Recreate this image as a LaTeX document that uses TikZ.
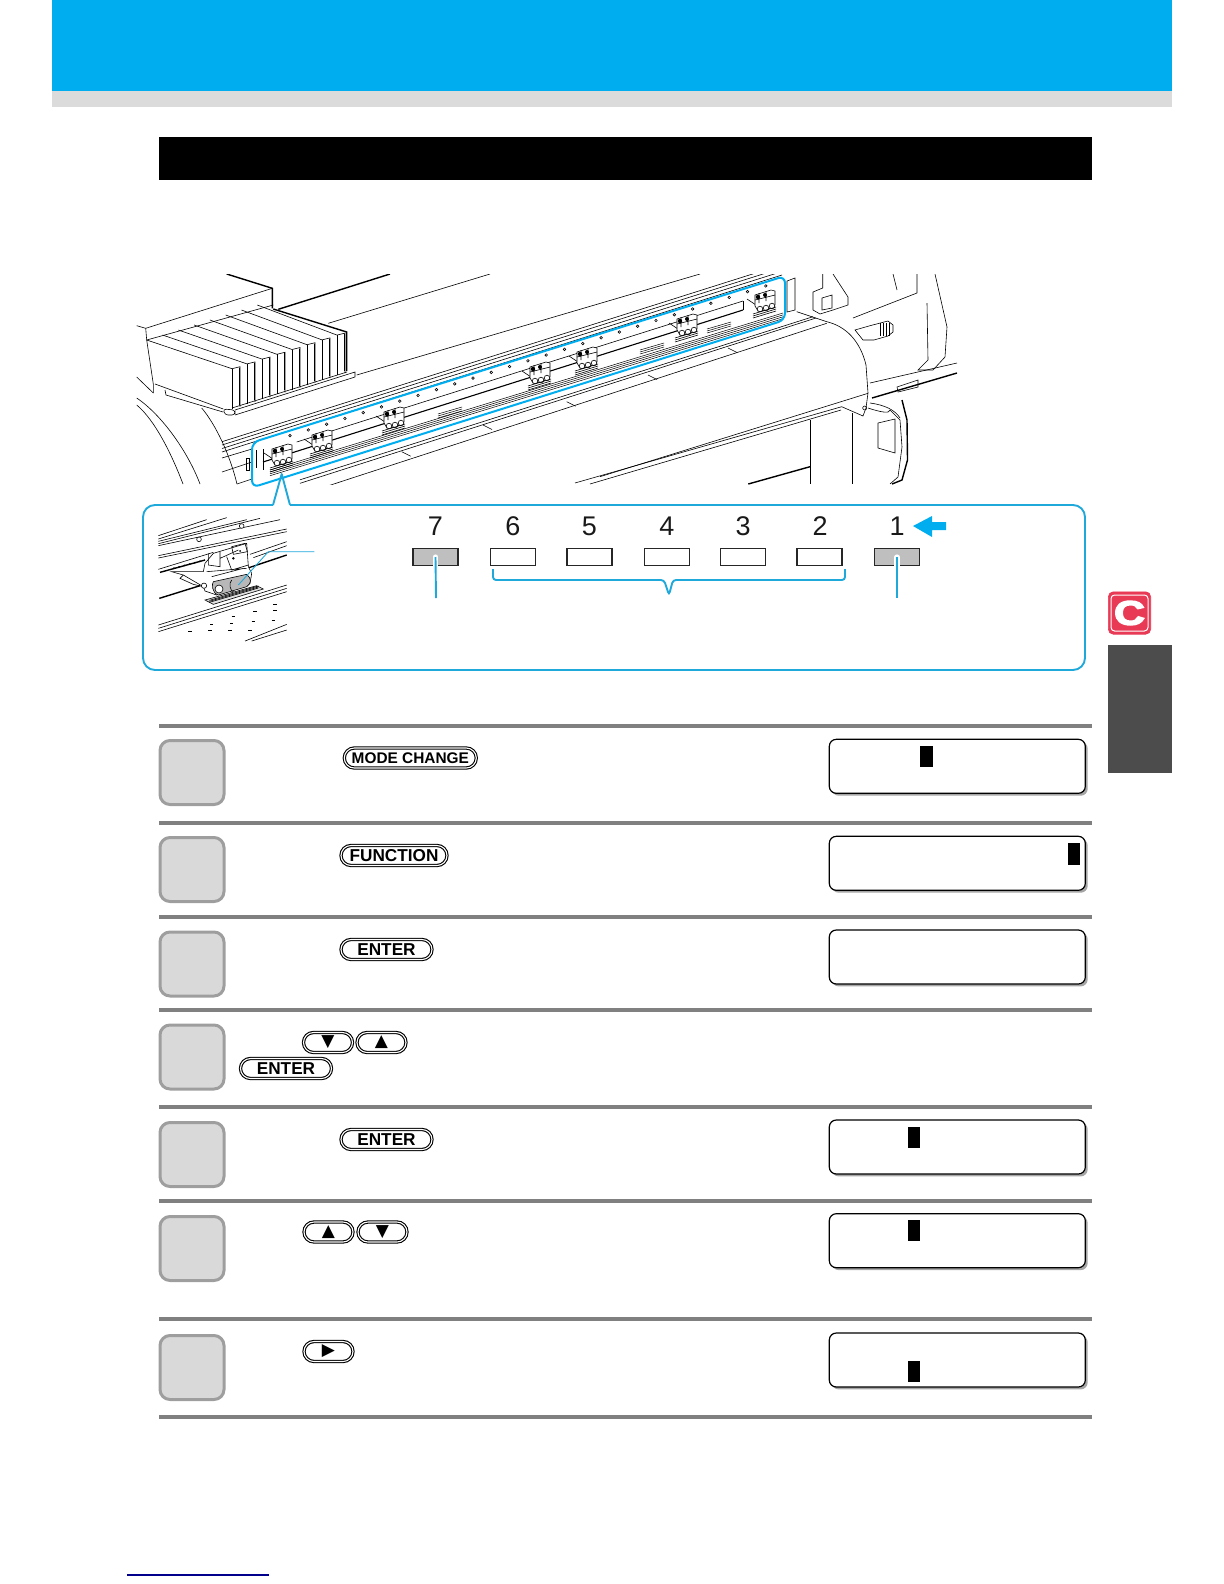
\documentclass[tikz,border=0pt]{standalone}
\usepackage{fontspec}
\setmainfont{Liberation Sans}
\newfontfamily\symfont{DejaVu Sans}
\newfontfamily\tabfont[FakeBold=4]{Liberation Sans Bold}
\usetikzlibrary{%
  arrows,%
  shapes.misc,% rounded rectangle
  shadows,%
  calc
}
\definecolor{bandblue}{HTML}{00AEEF}
\definecolor{linkblue}{HTML}{1FA8DA}
\definecolor{tabred}{HTML}{E83A55}
\tikzset{
  pinch/.pic={
    \draw[fine] (-16,-4) -- (-7,2);
    \draw[fine,fill=white] (-8,-8) -- (8,-13) -- (12,-12) -- (12,2) -- (4,7) -- (-5,8) -- (-8,3) -- cycle;
    \draw[fine] (-4,-10) -- (-4,0) (3,-12) -- (3,-2) (-8,-3) -- (12,-8);
    \fill (-5,-6) circle (2.2) (2,-8) circle (2);
    \foreach \rx/\ry in {-3/6,3/5,9/3} \draw[fine,fill=white] (\rx,\ry) circle (2.8);
    \foreach \hy in {0,2,4} \draw[fine] (-10,11+\hy) -- (13,4+\hy);
  }
}
\begin{document}
\begin{tikzpicture}[
  x=0.5bp, y=-0.5bp,
  fine/.style={line width=0.3bp, black},
  heavy/.style={line width=0.7bp, black},
  steprule/.style={line width=2bp, draw=black!50},
  band/.style={line width=1bp, draw=bandblue, rounded corners=3.5bp},
  link/.style={line width=0.95bp, draw=linkblue},
  stepbox/.style={rectangle, minimum width=32bp, minimum height=32bp, line width=1.5bp, draw=black!38, fill=black!15, rounded corners=5bp},
  display/.style={rectangle, minimum width=128bp, minimum height=27bp, line width=0.6bp, draw=black, fill=white, rounded corners=3.5bp, drop shadow={shadow xshift=1.2bp, shadow yshift=-1.2bp, fill=black!50, opacity=0.7}},
  cursorblock/.style={rectangle, minimum width=6.3bp, minimum height=10.8bp, inner sep=0pt, fill=black},
  lamp/.style={rectangle, minimum width=22.5bp, minimum height=8.4bp, line width=0.75bp, draw=black!85, fill=white},
  lampon/.style={lamp, fill=black!25},
  numlabel/.style={font=\fontsize{13.5bp}{15bp}\selectfont, text=black!90, inner sep=0pt},
  key/.style={rounded rectangle, draw=black, fill=white, line width=0.55bp, double=white, double distance=0.55bp, minimum height=10bp, inner sep=0pt, font=\fontsize{8.6bp}{9bp}\selectfont\bfseries}
]
\useasboundingbox (0,0) rectangle (1224,1584);

% page header and tab
\fill[bandblue] (52,0) rectangle (1172,91);
\fill[black!14] (52,91) rectangle (1172,107);
\fill[black] (159,137) rectangle (1092,180);
\node[rectangle, minimum width=21.2bp, minimum height=21.2bp, inner sep=0pt, fill=tabred, draw=tabred, line width=0.3bp, rounded corners=2.5bp] (tabc) at (1129.5,613) {};
\draw[white, line width=0.5bp, rounded corners=1.8bp] (1111,595) rectangle (1148,631);
\node[font=\fontsize{17bp}{17bp}\selectfont\tabfont, text=white, inner sep=0pt, xscale=1.25] (tabletter) at (1129.5,613) {C};
\fill[black!70] (1108,645) rectangle (1172,773);
\draw[line width=0.75bp, draw=blue!55!black] (127,1575) -- (269,1575);

% machine
\begin{scope}
\clip (133,274) rectangle (960,484);
% ink unit top
\draw[heavy] (226.7,274) -- (272.3,288.3) -- (272.3,308.3);
\draw[heavy] (278.3,309.3) -- (390,274);
\draw[fine] (136.7,325.7) -- (145.7,328.3) -- (272.3,288.3);
\draw[fine] (145.7,328.3) -- (146.7,340) -- (153.3,384) -- (153.3,393);
\draw[fine] (136.7,377) -- (153.3,393);
\draw[fine] (328.3,323.3) -- (490,274);
\draw[fine] (356.7,375) -- (700,274);
% ink cartridges
\draw[heavy] (273.3,309) -- (346.7,332) -- (346.7,371);
\foreach \i [evaluate=\i as \bx using 146.7+\i*15.8,
             evaluate=\i as \by using 340-\i*5,
             evaluate=\i as \fx using 240+\i*15,
             evaluate=\i as \fy using 366.7-\i*4.8] in {0,...,7} {
  \draw[fine] (\bx,\by) -- (\fx-8,\fy+2) -- (\fx,\fy) -- (\fx,\fy+40);
  \draw[fine] (\fx-8,\fy+2) -- (\fx-8,\fy+42);
  \draw[line width=0.35bp] (\fx-1,\fy+1) -- (\fx-1,\fy+38);
}
\draw[fine] (146.7,340) -- (273.3,305);
\draw[fine] (232,408) -- (347,372);
% tray
\draw[fine] (155,384) -- (223.3,409);
\draw[fine] (165,390) -- (166,395) -- (223,412);
\draw[fine, rounded corners=1.5bp] (223,409) -- (235,410) -- (235,415) -- (225,415) -- cycle;
\draw[fine] (235,410) -- (355,372) -- (355,377) -- (235,415);
% left curves
\draw[fine] (136.7,405) .. controls (155,420) and (172,455) .. (183,484);
\draw[fine] (136.7,398) .. controls (162,415) and (188,452) .. (200,484);
\draw[fine] (201.7,408) .. controls (216,425) and (230,455) .. (237,484);
% rails
\foreach \ry in {441.7,445,448.5,452} \draw[fine] (222,\ry) -- ++(560,-177);
\draw[fine] (222,458) -- (252,449);
\draw[fine] (222,472) -- (252,462);
\draw[fine] (237,484) -- (252,479);
\draw[fine] (246,458) rectangle (249,470);
\draw[fine] (256.7,450) -- (256.7,468);
\draw[heavy] (263.3,449) -- (263.3,470);
\draw[fine] (296.7,442) -- (743,301);
\draw[line width=0.55bp] (263,462) -- (743,310);
\draw[fine] (743,301) -- (743,310);
\foreach \hy in {0,1.9,3.8,5.7} \draw[line width=0.25bp] (270,470+\hy) -- (783,313+\hy);
\foreach \d in {0,...,26} \draw[fine,fill=white] (290+\d*18.3,435.7-\d*5.76) circle (1.3);
% bed below the band
\draw[fine] (300,479.8) -- (813,316.7);
\draw[fine] (300,483.3) -- (816,318);
\draw[fine] (300,495) -- (826.7,323.3);
\foreach \tx/\ty in {401.7/451.7,483/425,566.7/401.7,648/375,728/348} \draw[fine] (\tx,\ty) -- ++(9,4.5);
\foreach \tx/\ty in {438/414,640/350,707/329} \foreach \hy in {0,2,4} \draw[line width=0.25bp] (\tx,\ty+\hy) -- ++(24,-7);
% pinch rollers
\foreach \px/\py in {280/457,320/443,392/420,538/375,585/360,685/327,763/303} \pic at (\px,\py) {pinch};
% cover
\draw[fine] (600,476.7) -- (868,393.3);
\draw[fine] (575,483) -- (841.7,406.7);
\draw[fine] (590,484) -- (841,410);
\draw[heavy] (748.3,484) -- (810,466.7);
\draw[fine] (810.7,420) -- (810.7,484);
\draw[fine] (796.7,311.7) -- (826.7,321.7) .. controls (845,326) and (860,340) .. (866,365) -- (868,393) -- (866,408) -- (863,416) -- (841.7,406.7);
\draw[fine] (864.7,408) circle (2);
% knob
\draw[fine,fill=white] (855,330) -- (870,325.7) -- (888,321) -- (893,325) -- (893,332) -- (888,336) -- (874,340) -- (863,340) -- cycle;
\foreach \kx in {880,883,886,889} \draw[fine] (\kx,323) -- (\kx,336);
% right side frame
\draw[fine] (822.7,274) -- (822.7,288) -- (813,292) -- (813,310) -- (820,314) -- (833,310);
\draw[fine] (833,274) -- (848,297) -- (848,305) -- (833,310);
\draw[fine] (822,298) -- (832,295) -- (832,308) -- (822,310) -- cycle;
\draw[fine] (787,281) -- (795,278) -- (795,310) -- (787,312) -- cycle;
\draw[fine] (853,318) -- (917,293) -- (917,274);
\draw[fine] (893,274) -- (897,290);
\draw[fine] (927,303) -- (928,360) -- (918,370) -- (933,370) -- (945,357) -- (947,327) -- (935,274);
\draw[fine] (870,383) -- (957,363);
\draw[heavy] (872,398) -- (957,373);
\draw[fine] (897,387) -- (918,380) -- (918,387) -- (898,392) -- cycle;
% handle and post
\draw[fine] (852,413) -- (852,484);
\draw[fine] (870,403) .. controls (885,405) and (895,410) .. (900,418);
\draw[fine] (868,408) .. controls (880,412) and (890,414) .. (890,410);
\draw[heavy] (902,400) -- (907,420) -- (907.5,460) -- (902,480) -- (892,484);
\draw[fine] (890,410) -- (900,420) -- (902,447) -- (898,477) -- (890,484);
\draw[fine] (878,423) -- (895,419) -- (895,453) -- (878,448) -- cycle;
\end{scope}

% highlighted band and callout panel
\draw[band] (252,487.5) -- (252,442.5) -- (785,276) -- (785,320) -- cycle;
\draw[link, rounded corners=6bp] (273,505) -- (143,505) -- (143,670) -- (1085,670) -- (1085,505) -- (290,505);
\draw[link, line join=round] (273,505) -- (281.7,474) -- (290,505);

% enlarged pinch roller
\begin{scope}[shift={(150,515)}, x=0.1667bp, y=-0.1667bp]
\clip (25,8) rectangle (412,382);
\foreach \lx/\ly/\lxx/\lyy in {25/62/170/14, 25/72/230/8, 25/79/290/14, 25/86/330/10, 25/92/390/14, 25/122/410/42, 25/129/410/50, 25/163/190/112, 300/118/410/80, 310/128/410/92, 25/330/410/210, 25/340/410/220, 25/350/410/230, 285/378/410/328, 305/378/410/345} \draw[fine] (\lx,\ly) -- (\lxx,\lyy);
\draw[heavy] (30,172) -- (165,135);
\draw[line width=0.7bp, dotted] (70,160) -- (165,135);
\draw[heavy] (28,250) -- (150,212);
\draw[heavy] (285,162) -- (410,120);
\draw[fine,fill=white] (147,73) circle (7) (275,33) circle (7);
\draw[fine,fill=white] (65,170) -- (100,180) -- (160,215) -- (165,228) -- (200,240) -- (300,205) -- (305,175) -- (295,155) -- (290,85) -- (190,115) -- (165,145) -- (160,170) -- cycle;
\draw[fine] (100,180) -- (90,190) -- (130,208) -- (160,215);
\draw[fine] (175,115) -- (175,150) -- (210,155) -- (210,110) (210,130) -- (265,105) (230,125) -- (245,165) -- (295,150) (170,170) -- (290,160) (185,185) -- (280,160) (245,95) -- (285,85) -- (292,110) -- (250,118) -- cycle;
\draw[fine,fill=white] (162,212) circle (8);
\fill (250,130) circle (4) (270,108) circle (3);
\draw[fine,fill=black!28] (190,200) -- (290,178) .. controls (305,190) and (305,205) .. (290,215) -- (205,240) .. controls (185,235) and (185,205) .. (190,200) -- cycle;
\draw[fine,fill=white] (207,222) circle (12);
\draw[fine] (245,195) .. controls (235,205) and (240,228) .. (252,232);
\draw[fine,fill=black!12] (165,255) -- (320,212) -- (340,222) -- (190,268) -- cycle;
\foreach \hy in {0,3,6} \draw[fine] (178,256+\hy) -- (325,213+\hy);
\foreach \dx/\dy in {120/348,180/345,240/345,300/345,185/328,245/325,310/320,370/315,250/305,315/288,375/287,375/268} \draw[line width=0.4bp] (\dx-5,\dy) -- (\dx+5,\dy);
\end{scope}
\coordinate (leadtip) at (238.3,585);
\coordinate (leadknee) at (268.3,551.7);
\coordinate (leadend) at (314.3,551.7);
\draw[line width=0.45bp, draw=linkblue] (leadtip) -- (leadknee) -- (leadend);

% numbered positions
\foreach \n/\lx in {6/513,5/589.5,4/667,3/743,2/819.5} {
  \node[lamp] (lamp\n) at (\lx,557) {};
}
\node[lampon] (lamp7) at (435.5,557) {};
\node[lampon] (lamp1) at (897,557) {};
\foreach \n/\lx in {7/435.5,6/513,5/589.5,4/667,3/743,2/820,1/897} {
  \node[numlabel] (num\n) at (\lx,526) {\n};
}
\coordinate (stem7) at (436,598);
\coordinate (stem1) at (897,598);
\draw[white, line width=2.6bp, line cap=round] (lamp7.center) -- (lamp7.south);
\draw[white, line width=2.6bp, line cap=round] (lamp1.center) -- (lamp1.south);
\draw[link] (lamp7.center) -- (stem7);
\draw[link] (lamp1.center) -- (stem1);
\coordinate (brackl) at (493,569);
\coordinate (brackr) at (845,569);
\coordinate (bracktip) at (669,595);
\draw[link, rounded corners=1.5bp] (brackl) -- (493,580) -- (664,580) -- (bracktip) -- (673,580) -- (845,580) -- (brackr);
\fill[bandblue] (913,526) -- (932,516) -- (932,522) -- (946,522) -- (946,530) -- (932,530) -- (932,537) -- cycle;

% step rows
\foreach \ry in {726,823,917,1010,1107,1201,1319,1417} {
  \draw[steprule] (159,\ry) -- (1092,\ry);
}
\foreach \s/\sy in {1/772.5,2/869.5,3/964,4/1057,5/1154.5,6/1248.5,7/1367.5} {
  \node[stepbox] (step\s) at (192,\sy) {};
}
\foreach \s/\sy in {1/766.3,2/863.3,3/957,5/1147,6/1240.7,7/1360} {
  \node[display] (lcd\s) at (957.3,\sy) {};
}
\node[cursorblock] (cur1) at (926.5,756.3) {};
\node[cursorblock] (cur2) at (1074,854) {};
\node[cursorblock] (cur5) at (914,1137.5) {};
\node[cursorblock] (cur6) at (914,1230.5) {};
\node[cursorblock] (cur7) at (914,1371.5) {};

% keys
\node[key, minimum width=66bp, font=\fontsize{7.7bp}{9bp}\selectfont\bfseries] (keymode) at (410.3,758) {MODE CHANGE};
\node[key, minimum width=53bp] (keyfunc) at (394,855.5) {FUNCTION};
\node[key, minimum width=45.5bp] (keyenter1) at (386.5,949.5) {ENTER};
\node[key, minimum width=24.5bp, font=\symfont\fontsize{8.5bp}{9bp}\selectfont] (keydown1) at (328,1042.5) {▼};
\node[key, minimum width=24.5bp, font=\symfont\fontsize{8.5bp}{9bp}\selectfont] (keyup1) at (381.5,1042.5) {▲};
\node[key, minimum width=45.5bp] (keyenter2) at (286,1068.5) {ENTER};
\node[key, minimum width=45.5bp] (keyenter3) at (386.5,1139.5) {ENTER};
\node[key, minimum width=24.5bp, font=\symfont\fontsize{8.5bp}{9bp}\selectfont] (keyup2) at (328.5,1232) {▲};
\node[key, minimum width=24.5bp, font=\symfont\fontsize{8.5bp}{9bp}\selectfont] (keydown2) at (382.5,1232) {▼};
\node[key, minimum width=24.5bp, font=\symfont\fontsize{8.5bp}{9bp}\selectfont] (keyright) at (328.5,1351.5) {▶};
\end{tikzpicture}
\end{document}
